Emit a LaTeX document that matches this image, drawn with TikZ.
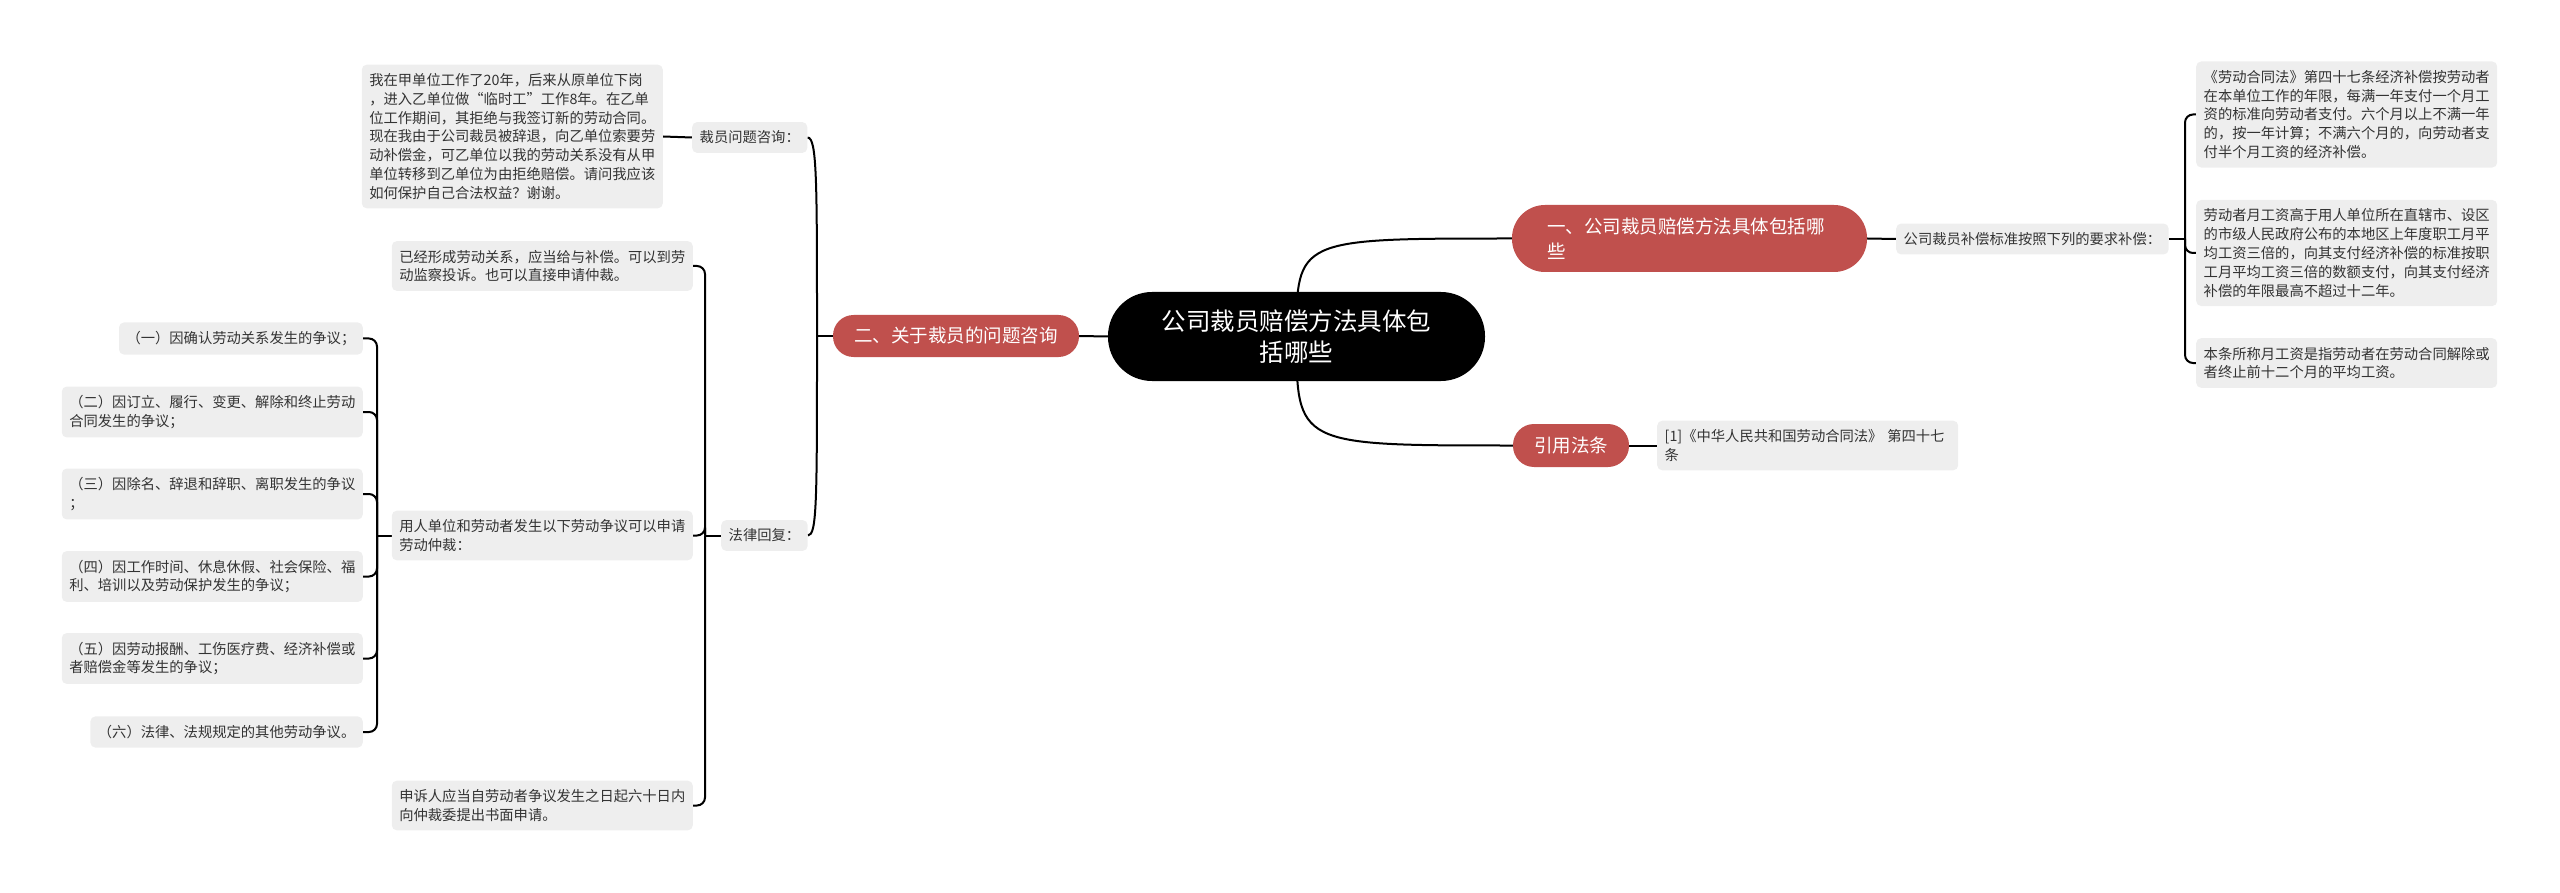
\documentclass[tikz,border=0pt]{standalone}
\usepackage{fontspec}
\setmainfont{Noto Sans CJK SC}
\usetikzlibrary{backgrounds}
\definecolor{redn}{HTML}{C0504D}
\definecolor{boxg}{HTML}{EEEEEE}
\definecolor{txt}{HTML}{333333}
\tikzset{
  leaf/.style={fill=boxg, rounded corners=5pt, text=txt, font=\fontsize{14.3pt}{18.8pt}\selectfont,
    inner xsep=7.5pt, inner ysep=8.8pt, align=left},
  leafw/.style={leaf, text width=286pt},
  redpill/.style={fill=redn, text=white, font=\fontsize{18.5pt}{24.5pt}\selectfont, inner sep=0pt},
  conn/.style={draw=black, line width=2pt},
}
\begin{document}
\begin{tikzpicture}[x=1pt,y=-1pt]
\useasboundingbox (0,0) rectangle (2560,893);
% central
\node[fill=black, text=white, rounded corners=44pt, minimum width=377pt, minimum height=89pt, inner sep=0pt,
  align=center, font=\fontsize{24.5pt}{31pt}\selectfont] (c) at (1296.5,336.5) {公司裁员赔偿方法具体包\\括哪些};
% right branch 1
\node[redpill, rounded corners=33pt, minimum width=355pt, minimum height=67pt, text width=285pt, align=left]
  (r1) at (1689.5,238.5) {一、公司裁员赔偿方法具体包括哪\\些};
\node[leaf, anchor=west] (r1a) at (1896,239) {公司裁员补偿标准按照下列的要求补偿：};
\node[leafw, anchor=west] (ra1) at (2196,114.5) {《劳动合同法》第四十七条经济补偿按劳动者\\在本单位工作的年限，每满一年支付一个月工\\资的标准向劳动者支付。六个月以上不满一年\\的，按一年计算；不满六个月的，向劳动者支\\付半个月工资的经济补偿。};
\node[leafw, anchor=west] (ra2) at (2196,253) {劳动者月工资高于用人单位所在直辖市、设区\\的市级人民政府公布的本地区上年度职工月平\\均工资三倍的，向其支付经济补偿的标准按职\\工月平均工资三倍的数额支付，向其支付经济\\补偿的年限最高不超过十二年。};
\node[leafw, anchor=west] (ra3) at (2196,363) {本条所称月工资是指劳动者在劳动合同解除或\\者终止前十二个月的平均工资。};
% right branch 2
\node[redpill, rounded corners=21pt, minimum width=116pt, minimum height=43pt] (r2) at (1571,445.5) {引用法条};
\node[leafw, anchor=west] (r2a) at (1657,445.5) {[1]《中华人民共和国劳动合同法》 第四十七\\条};
% left branch
\node[redpill, rounded corners=20.5pt, minimum width=246pt, minimum height=42pt] (l) at (956,336) {二、关于裁员的问题咨询};
\node[leaf, anchor=west] (lq) at (692,137.5) {裁员问题咨询：};
\node[leafw, anchor=east] (lqa) at (663,136.5) {我在甲单位工作了20年，后来从原单位下岗\\，进入乙单位做“临时工”工作8年。在乙单\\位工作期间，其拒绝与我签订新的劳动合同。\\现在我由于公司裁员被辞退，向乙单位索要劳\\动补偿金，可乙单位以我的劳动关系没有从甲\\单位转移到乙单位为由拒绝赔偿。请问我应该\\如何保护自己合法权益？谢谢。};
\node[leaf, anchor=west] (lr) at (721,535.5) {法律回复：};
\node[leafw, anchor=east] (lr1) at (693,266) {已经形成劳动关系，应当给与补偿。可以到劳\\动监察投诉。也可以直接申请仲裁。};
\node[leafw, anchor=east] (lr2) at (693,535.5) {用人单位和劳动者发生以下劳动争议可以申请\\劳动仲裁：};
\node[leafw, anchor=east] (lr3) at (693,805.5) {申诉人应当自劳动者争议发生之日起六十日内\\向仲裁委提出书面申请。};
\node[leaf, anchor=east] (k1) at (363,338.5) {（一）因确认劳动关系发生的争议；};
\node[leafw, anchor=east] (k2) at (363,412) {（二）因订立、履行、变更、解除和终止劳动\\合同发生的争议；};
\node[leafw, anchor=east] (k3) at (363,494) {（三）因除名、辞退和辞职、离职发生的争议\\；};
\node[leafw, anchor=east] (k4) at (363,576.5) {（四）因工作时间、休息休假、社会保险、福\\利、培训以及劳动保护发生的争议；};
\node[leafw, anchor=east] (k5) at (363,658.5) {（五）因劳动报酬、工伤医疗费、经济补偿或\\者赔偿金等发生的争议；};
\node[leaf, anchor=east] (k6) at (363,732) {（六）法律、法规规定的其他劳动争议。};
% junction coordinates
\coordinate (jr) at (2185,239);
\coordinate (jl) at (817,336);
\coordinate (jlr) at (705,535.5);
\coordinate (jk) at (377,535.5);
\begin{pgfonlayer}{background}
\draw[conn] (c.center) .. controls (c.center |- r1.west) .. (r1.west);
\draw[conn] (c.center) .. controls (c.center |- r2.west) .. (r2.west);
\draw[conn] (c.west) -- (l.east);
\draw[conn] (r1.east) -- (r1a.west);
\draw[conn] (r1a.east) -- (jr);
\foreach \n in {ra1,ra2,ra3} \draw[conn, rounded corners=8pt] (jr) |- (\n.west);
\draw[conn] (r2.east) -- (r2a.west);
\draw[conn] (l.west) -- (jl);
\draw[conn] (jl) .. controls (817,180) and (817,137.5) .. (lq.east);
\draw[conn] (jl) .. controls (817,500) and (817,535.5) .. (lr.east);
\draw[conn] (lq.west) -- (lqa.east);
\draw[conn] (lr.west) -- (jlr);
\foreach \n in {lr1,lr2,lr3} \draw[conn, rounded corners=8pt] (jlr) |- (\n.east);
\draw[conn] (lr2.west) -- (jk);
\foreach \n in {k1,k2,k3,k4,k5,k6} \draw[conn, rounded corners=8pt] (jk) |- (\n.east);
\end{pgfonlayer}
\end{tikzpicture}
\end{document}
